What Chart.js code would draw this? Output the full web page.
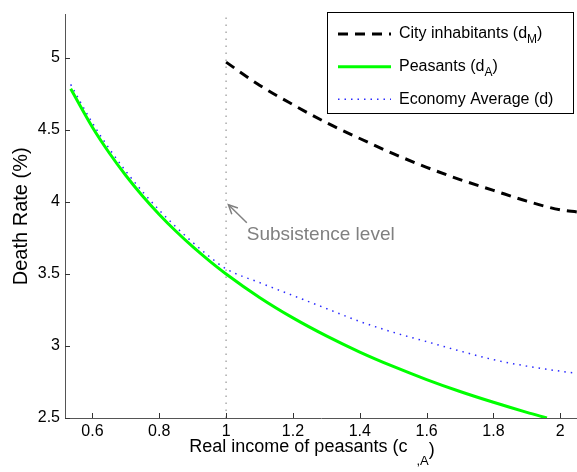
<!DOCTYPE html>
<html><head><meta charset="utf-8">
<script src="https://cdn.jsdelivr.net/npm/chart.js@4"></script>
<style>html,body{margin:0;padding:0;background:#fff;overflow:hidden}#wrap{width:577px;height:472px}</style>
</head><body><div id="wrap"><canvas id="c" width="577" height="472"></canvas></div>
<script>
// ---- data ----
const peasantIncome = [0.535, 0.6, 0.65, 0.7, 0.75, 0.8, 0.85, 0.9, 0.95, 1.0, 1.1, 1.2, 1.3, 1.4, 1.5, 1.6, 1.7, 1.8, 1.9, 1.96];
const peasantDeath  = [4.785, 4.518, 4.341, 4.183, 4.041, 3.913, 3.796, 3.689, 3.591, 3.5, 3.337, 3.195, 3.07, 2.958, 2.858, 2.767, 2.684, 2.609, 2.539, 2.5];
const averageIncome = [0.535, 0.6, 0.65, 0.7, 0.75, 0.8, 0.85, 0.9, 0.95, 1.0, 1.1, 1.2, 1.3, 1.4, 1.5, 1.6, 1.7, 1.8, 1.9, 2.0, 2.05];
const averageDeath  = [4.815, 4.548, 4.371, 4.213, 4.071, 3.943, 3.826, 3.719, 3.621, 3.535, 3.44, 3.35, 3.26, 3.17, 3.095, 3.03, 2.965, 2.905, 2.86, 2.825, 2.81];
const cityIncome    = [1.0, 1.1, 1.2, 1.3, 1.4, 1.5, 1.6, 1.7, 1.8, 1.9, 2.0, 2.05];
const cityDeath     = [4.97, 4.81, 4.675, 4.55, 4.44, 4.335, 4.24, 4.155, 4.08, 4.005, 3.945, 3.93];
const xTickValues = [0.6, 0.8, 1, 1.2, 1.4, 1.6, 1.8, 2];
const yTickValues = [2.5, 3, 3.5, 4, 4.5, 5];
const subsistenceIncome = 1;
const legendLabels = [["City inhabitants (d", "M", ")"], ["Peasants (d", "A", ")"], ["Economy Average (d)", "", ""]];
const xTitleParts = ["Real income of peasants (c", ",A", ")"];
const yTitle = "Death Rate (%)";
const noteText = "Subsistence level";

const pairs = (xs, ys) => xs.map((x, i) => ({x: x, y: ys[i]}));
const FONT = "'Liberation Sans', Arial, Helvetica, sans-serif";

const extras = {
  id: 'extras',
  afterDraw(chart) {
    const ctx = chart.ctx, xs = chart.scales.x, ys = chart.scales.y, a = chart.chartArea;
    ctx.save();
    // inward tick marks
    ctx.strokeStyle = '#333'; ctx.lineWidth = 1;
    ctx.beginPath();
    xs.ticks.forEach(t => { const p = Math.round(xs.getPixelForValue(t.value)) + 0.5; ctx.moveTo(p, a.bottom); ctx.lineTo(p, a.bottom - 5); });
    ys.ticks.forEach(t => { const p = Math.round(ys.getPixelForValue(t.value)) + 0.5; ctx.moveTo(a.left, p); ctx.lineTo(a.left + 5, p); });
    ctx.stroke();

    // x title with subscript
    ctx.fillStyle = '#000'; ctx.textBaseline = 'alphabetic'; ctx.textAlign = 'left';
    ctx.font = '18px ' + FONT;
    const w0 = ctx.measureText(xTitleParts[0]).width;
    ctx.font = '13px ' + FONT;
    const w1 = ctx.measureText(xTitleParts[1]).width;
    ctx.font = '18px ' + FONT;
    const w2 = ctx.measureText(xTitleParts[2]).width;
    const gap = 9;
    const total = w0 + gap + w1 + w2;
    let sx = (a.left + a.right) / 2 - 9 - total / 2;
    const base = 452;
    ctx.fillText(xTitleParts[0], sx, base);
    ctx.font = '13px ' + FONT;
    ctx.fillText(xTitleParts[1], sx + w0 + gap, base + 13);
    ctx.font = '18px ' + FONT;
    ctx.fillText(xTitleParts[2], sx + w0 + gap + w1, base + 3);

    // annotation arrow + text
    const tipX = xs.getPixelForValue(1.007), tipY = ys.getPixelForValue(3.98);
    const tailX = xs.getPixelForValue(1.062), tailY = ys.getPixelForValue(3.855);
    ctx.strokeStyle = '#808080'; ctx.fillStyle = '#808080'; ctx.lineWidth = 1.5;
    ctx.beginPath(); ctx.moveTo(tailX, tailY); ctx.lineTo(tipX, tipY); ctx.stroke();
    const ang = Math.atan2(tipY - tailY, tipX - tailX), hl = 10, hw = 0.45;
    ctx.beginPath();
    ctx.moveTo(tipX - hl * Math.cos(ang - hw), tipY - hl * Math.sin(ang - hw));
    ctx.lineTo(tipX, tipY);
    ctx.lineTo(tipX - hl * Math.cos(ang + hw), tipY - hl * Math.sin(ang + hw));
    ctx.stroke();
    ctx.font = '19px ' + FONT; ctx.textBaseline = 'middle';
    ctx.fillText(noteText, tailX, ys.getPixelForValue(3.775));

    // legend
    const bx = 327.5, by = 12.5, bw = 246, bh = 101;
    ctx.fillStyle = '#fff'; ctx.fillRect(bx, by, bw, bh);
    ctx.strokeStyle = '#000'; ctx.lineWidth = 1; ctx.strokeRect(bx, by, bw, bh);
    const rows = [34, 66.7, 99.3];
    [0, 1, 2].forEach((di, r) => {
      const ds = chart.data.datasets[di];
      const y = rows[r];
      ctx.save();
      ctx.strokeStyle = ds.borderColor; ctx.lineWidth = ds.borderWidth;
      ctx.setLineDash(ds.borderDash || []);
      ctx.beginPath(); ctx.moveTo(338, y); ctx.lineTo(391, y); ctx.stroke();
      ctx.restore();
      const parts = legendLabels[r];
      ctx.fillStyle = '#000'; ctx.textBaseline = 'middle';
      ctx.font = '16px ' + FONT;
      let tx = 399;
      ctx.fillText(parts[0], tx, y); tx += ctx.measureText(parts[0]).width;
      if (parts[1]) {
        ctx.font = '12px ' + FONT;
        ctx.fillText(parts[1], tx, y + 6); tx += ctx.measureText(parts[1]).width;
        ctx.font = '16px ' + FONT;
        ctx.fillText(parts[2], tx, y);
      }
    });
    ctx.restore();
  }
};

new Chart(document.getElementById('c'), {
  type: 'line',
  data: {
    datasets: [
      { label: 'City inhabitants', data: pairs(cityIncome, cityDeath), borderColor: '#000000', borderWidth: 3, borderDash: [10, 7], pointRadius: 0, cubicInterpolationMode: 'monotone', fill: false },
      { label: 'Peasants', data: pairs(peasantIncome, peasantDeath), borderColor: '#00ff00', borderWidth: 3, pointRadius: 0, cubicInterpolationMode: 'monotone', fill: false },
      { label: 'Economy Average', data: pairs(averageIncome, averageDeath), borderColor: '#2a2aff', borderWidth: 1.5, borderDash: [1.5, 5], pointRadius: 0, cubicInterpolationMode: 'monotone', fill: false },
      { label: 'Subsistence', data: [{x: subsistenceIncome, y: 2.5}, {x: subsistenceIncome, y: 5.3}], borderColor: '#aaaaaa', borderWidth: 1.5, borderDash: [1.5, 5.5], pointRadius: 0, fill: false }
    ]
  },
  options: {
    responsive: false, animation: false, devicePixelRatio: 1,
    layout: { padding: { top: 10, right: 0, left: 0, bottom: 0 } },
    plugins: { legend: { display: false }, tooltip: { enabled: false } },
    scales: {
      x: {
        type: 'linear', min: 0.518, max: 2.05,
        afterBuildTicks: s => { s.ticks = xTickValues.map(v => ({value: v})); },
        afterFit: s => { s.height = 54; },
        grid: { display: false, drawTicks: false },
        border: { display: true, color: '#555', width: 1 },
        ticks: { color: '#000', font: { family: FONT, size: 16 }, padding: 4, maxRotation: 0, autoSkip: false, callback: v => String(v) }
      },
      y: {
        type: 'linear', min: 2.5, max: 5.3,
        afterBuildTicks: s => { s.ticks = yTickValues.map(v => ({value: v})); },
        afterFit: s => { s.width = 65; },
        grid: { display: false, drawTicks: false },
        border: { display: true, color: '#555', width: 1 },
        title: { display: true, text: yTitle, color: '#000', font: { family: FONT, size: 20 }, padding: { top: 9, bottom: 0 } },
        ticks: { color: '#000', font: { family: FONT, size: 16 }, padding: 5, callback: v => String(v) }
      }
    }
  },
  plugins: [extras]
});
</script></body></html>
